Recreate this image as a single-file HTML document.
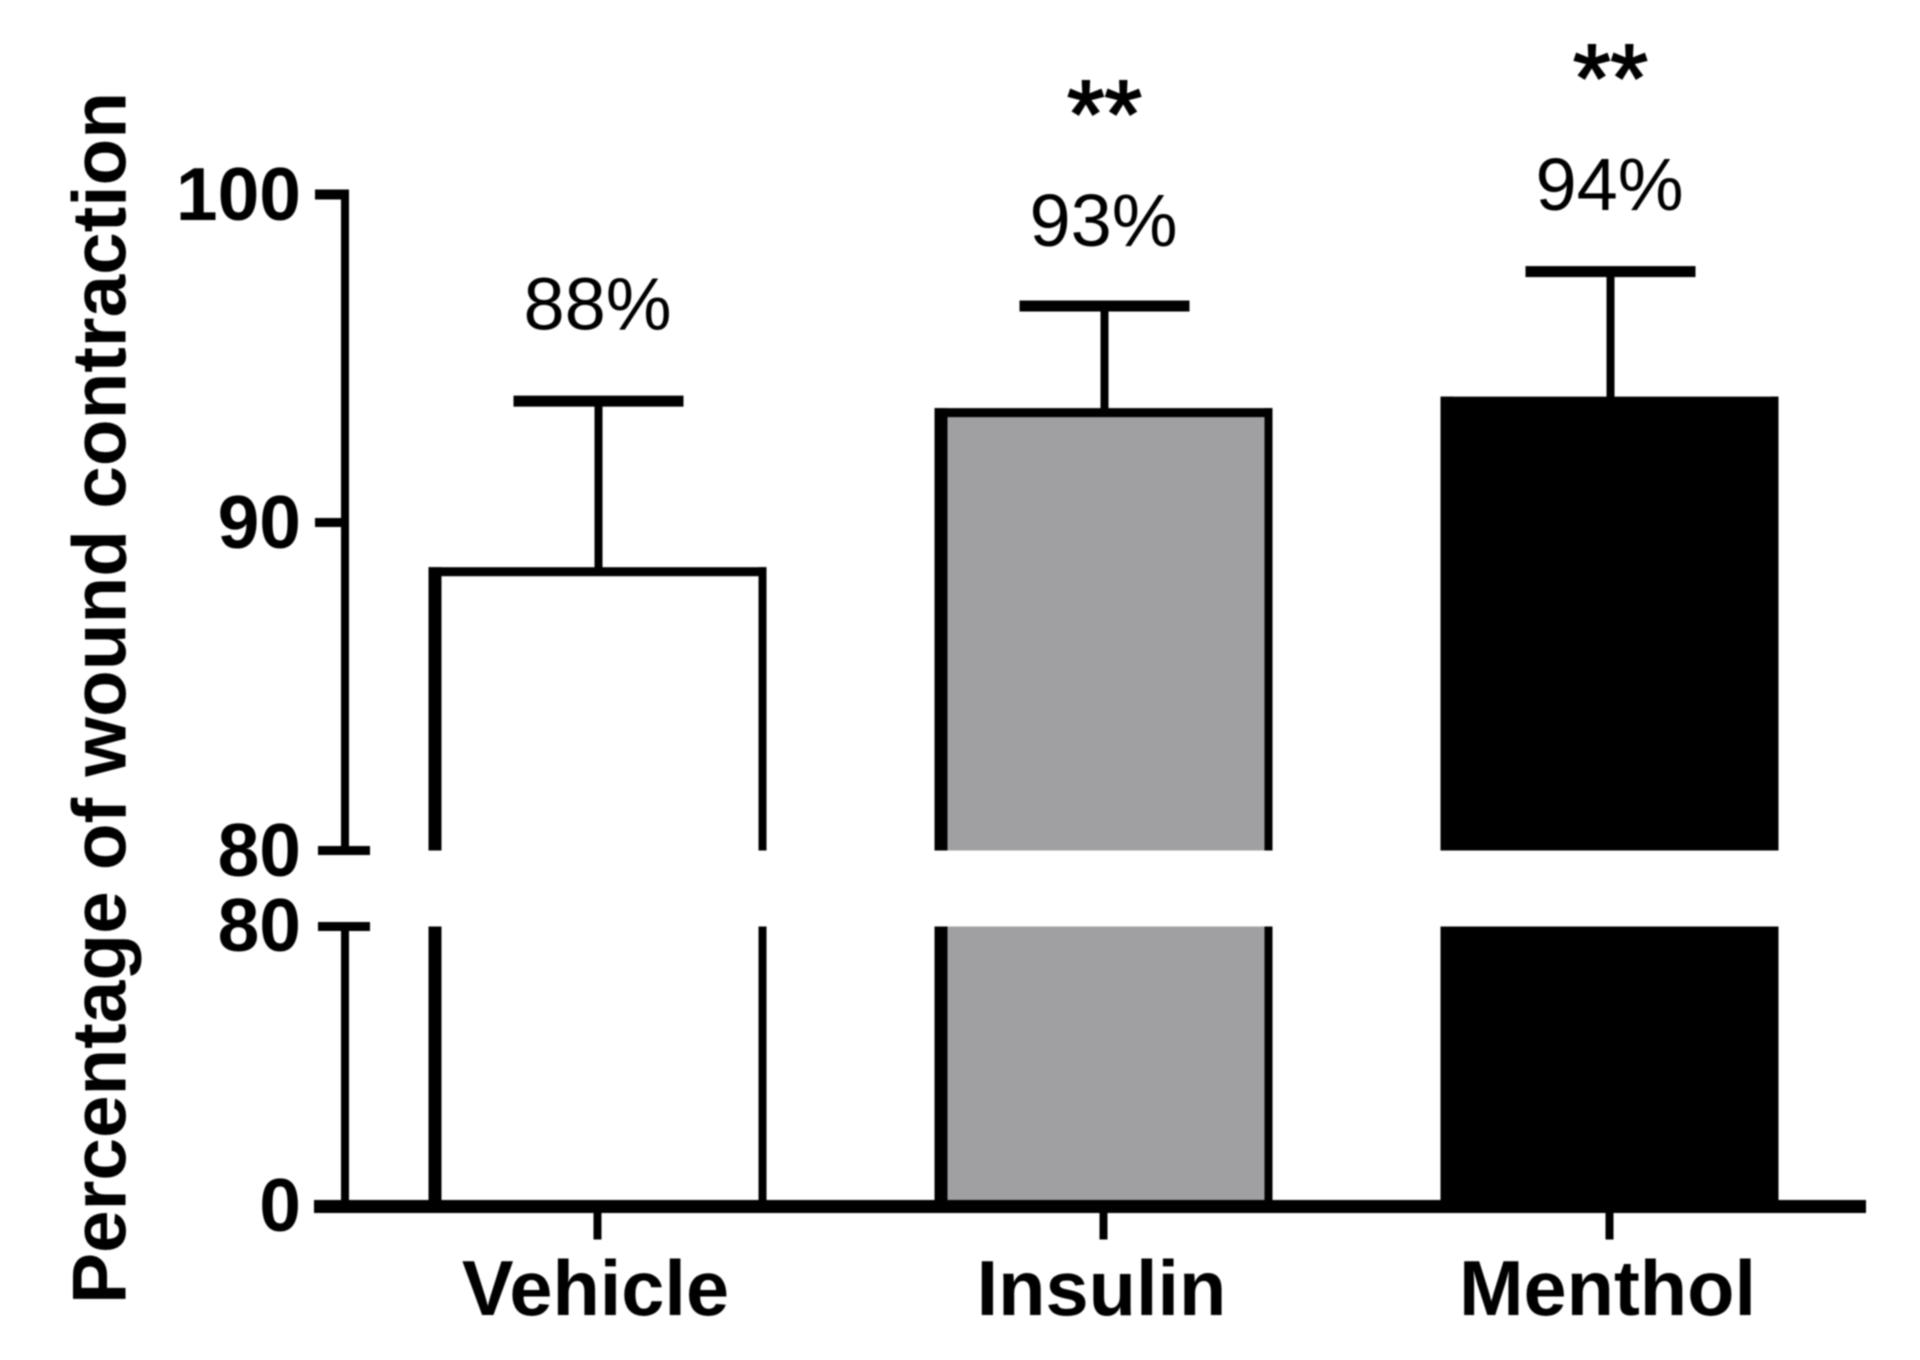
<!DOCTYPE html>
<html lang="en">
<head>
<meta charset="utf-8">
<title>Percentage of wound contraction</title>
<style>
  html, body { margin: 0; padding: 0; background: #fff; }
  #chart { display: block; width: 1920px; height: 1360px; filter: blur(0.9px); }
  text { font-family: "Liberation Sans", Arial, sans-serif; fill: #000; }
</style>
</head>
<body>
<svg id="chart" xmlns="http://www.w3.org/2000/svg" width="1920" height="1360" viewBox="0 0 1920 1360">
  <rect x="0" y="0" width="1920" height="1360" fill="#ffffff"></rect>
  <text id="yTitle" transform="translate(125.5 1304) rotate(-90)" font-size="76" font-weight="700" textLength="1212" lengthAdjust="spacingAndGlyphs">Percentage of wound contraction</text>
  <g id="marks"></g>
</svg>
<script>
const categories = ['Vehicle', 'Insulin', 'Menthol'];
const means = [88.5, 93.35, 93.7];
const errorTops = [93.7, 96.6, 97.65];
const percentLabels = ['88%', '93%', '94%'];
const significance = ['', '**', '**'];
const upperTicks = [80, 90, 100];
const lowerTicks = [0, 80];
const barFills = ['#ffffff', '#a0a0a2', '#000000'];

const SVG_NS = 'http://www.w3.org/2000/svg';
const root = document.getElementById('marks');

/* Axis functions: broken y axis with an upper (80-100) and lower (0-80) segment */
function yUpper(v) { return 850.5 - (v - 80) * 32.8; }
function yLower(v) { return 1206.5 - v * (280 / 80); }
function xBand(i) { return 597.5 + 506 * i; }

function make(tag, attrs) {
  const node = document.createElementNS(SVG_NS, tag);
  Object.keys(attrs).forEach(function (k) { node.setAttribute(k, attrs[k]); });
  return node;
}

const AXIS_X = 345;
const AXIS_W = 8;
const HALF_BAR = 169;
const LEFT_W = 13;
const RIGHT_W = 8;
const TOP_W = 9;
const BASE_Y = yLower(0);
const BREAK_TOP = yUpper(80);
const BREAK_BOTTOM = yLower(80);

/* Bars */
categories.forEach(function (name, i) {
  const cx = xBand(i);
  const left = cx - HALF_BAR;
  const right = cx + HALF_BAR;
  const top = yUpper(means[i]);
  const slug = name.toLowerCase();

  const g = make('g', {});
  
  
  root.appendChild(g);

  const upperFill = make('rect', { x: left, y: top, width: right - left, height: BREAK_TOP - top, fill: barFills[i] });
  
  
  g.appendChild(upperFill);

  const lowerFill = make('rect', { x: left, y: BREAK_BOTTOM, width: right - left, height: BASE_Y - BREAK_BOTTOM, fill: barFills[i] });
  
  
  g.appendChild(lowerFill);

  const topEdge = make('rect', { x: left, y: top - TOP_W / 2, width: right - left, height: TOP_W, fill: '#000' });
  
  
  g.appendChild(topEdge);

  const leftUpper = make('rect', { x: left, y: top - TOP_W / 2, width: LEFT_W, height: BREAK_TOP - top + TOP_W / 2, fill: '#000' });
  
  
  g.appendChild(leftUpper);

  const rightUpper = make('rect', { x: right - RIGHT_W, y: top - TOP_W / 2, width: RIGHT_W, height: BREAK_TOP - top + TOP_W / 2, fill: '#000' });
  
  
  g.appendChild(rightUpper);

  const leftLower = make('rect', { x: left, y: BREAK_BOTTOM, width: LEFT_W, height: BASE_Y - BREAK_BOTTOM, fill: '#000' });
  
  
  g.appendChild(leftLower);

  const rightLower = make('rect', { x: right - RIGHT_W, y: BREAK_BOTTOM, width: RIGHT_W, height: BASE_Y - BREAK_BOTTOM, fill: '#000' });
  
  
  g.appendChild(rightLower);

  /* Error bar */
  const capY = yUpper(errorTops[i]);
  const stemX = cx + 1;
  const stem = make('rect', { x: stemX - 4, y: capY, width: 8, height: top - capY, fill: '#000' });
  
  
  root.appendChild(stem);

  const cap = make('rect', { x: stemX - 85, y: capY - 5.5, width: 170, height: 11, fill: '#000' });
  
  
  root.appendChild(cap);

  /* Value label, sitting above the error cap */
  const labelGaps = [71.5, 60, 61.5];
  const labelY = capY - labelGaps[i];
  const label = make('text', { x: cx, y: labelY, 'font-size': 74, 'text-anchor': 'middle' });
  label.textContent = percentLabels[i];
  
  
  root.appendChild(label);

  /* Significance marker */
  if (significance[i]) {
    const star = make('text', { x: cx + 1, y: labelY - 99, 'font-size': 96, 'text-anchor': 'middle', stroke: '#000', 'stroke-width': 2 });
    star.textContent = significance[i];
    
    
    root.appendChild(star);
  }

  /* X tick and category label */
  const tick = make('rect', { x: cx - 4, y: BASE_Y, width: 8, height: 33, fill: '#000' });
  
  
  root.appendChild(tick);

  const catLabel = make('text', { x: cx - 2, y: 1315, 'font-size': 77.5, 'font-weight': 700, 'text-anchor': 'middle' });
  catLabel.textContent = name;
  
  
  root.appendChild(catLabel);
});

/* Y axis: upper segment */
const axisUpper = make('rect', { x: AXIS_X - AXIS_W / 2, y: yUpper(100) - 5, width: AXIS_W, height: BREAK_TOP - yUpper(100) + 5, fill: '#000' });


root.appendChild(axisUpper);

/* Y axis: lower segment */
const axisLower = make('rect', { x: AXIS_X - AXIS_W / 2, y: BREAK_BOTTOM, width: AXIS_W, height: BASE_Y - BREAK_BOTTOM, fill: '#000' });


root.appendChild(axisLower);

/* X axis line */
const xAxis = make('rect', { x: 314, y: BASE_Y - 6.5, width: 1552, height: 13, fill: '#000' });


root.appendChild(xAxis);

/* Upper y ticks */
upperTicks.forEach(function (v) {
  const y = yUpper(v);
  const isBreak = v === upperTicks[0];
  const isTop = v === upperTicks[upperTicks.length - 1];
  const t = make('rect', { x: isBreak ? 318 : 315, y: y - (isTop ? 5 : 4.5), width: isBreak ? 52 : 30, height: isTop ? 10 : 9, fill: '#000' });
  
  
  root.appendChild(t);

  const lab = make('text', { x: 301, y: y + 25.5, 'font-size': 75, 'font-weight': 700, 'text-anchor': 'end' });
  lab.textContent = String(v);
  
  
  root.appendChild(lab);
});

/* Lower y ticks */
lowerTicks.forEach(function (v) {
  const y = yLower(v);
  if (v > 0) {
    const t = make('rect', { x: 318, y: y - 4.5, width: 52, height: 9, fill: '#000' });
    
    
    root.appendChild(t);
  }

  const lab = make('text', { x: 301, y: y + 24.5, 'font-size': 75, 'font-weight': 700, 'text-anchor': 'end' });
  lab.textContent = String(v);
  
  
  root.appendChild(lab);
});
</script>
</body>
</html>
